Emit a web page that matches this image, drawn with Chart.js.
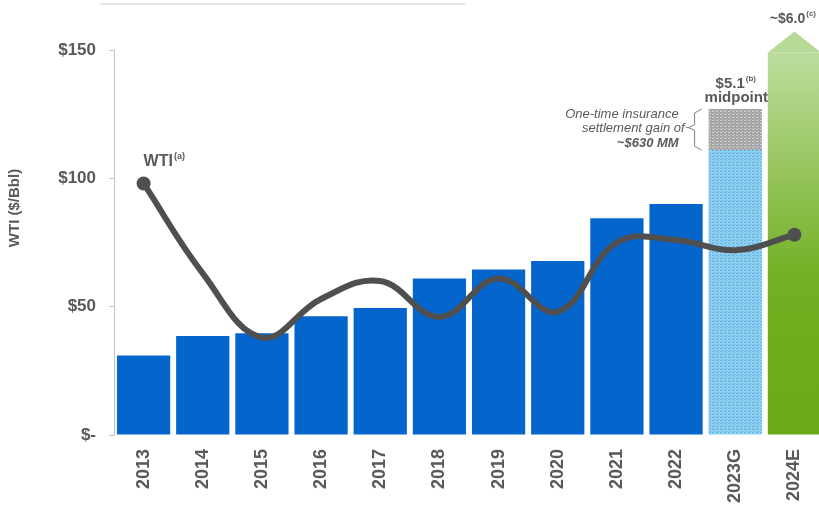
<!DOCTYPE html>
<html>
<head>
<meta charset="utf-8">
<script src="https://cdn.jsdelivr.net/npm/chart.js@4"></script>
<style>
  html, body { margin: 0; padding: 0; background: #fff; overflow: hidden; }
  .wrap { width: 831px; height: 514px; }
</style>
</head>
<body>
<div class="wrap"><canvas id="chart"></canvas></div>
<script>
const YEARS = ['2013', '2014', '2015', '2016', '2017', '2018', '2019', '2020', '2021', '2022', '2023G', '2024E'];
const EBITDA = [31, 38.6, 39.6, 46.3, 49.5, 61, 64.5, 67.8, 84.4, 90, 111, 149];
const INSURANCE = [null, null, null, null, null, null, null, null, null, null, 16, null];
const WTI = [98, 63, 38, 53, 60, 46, 61, 48, 75, 76, 72, 78];
const Y_TICKS = [0, 50, 100, 150];

const FONT = '"Liberation Sans", Arial, sans-serif';
const GREY = '#595959';
const BLUE = '#0465cc';

// dotted fill like the slide's texture
function pattern(base, dot) {
  const c = document.createElement('canvas');
  c.width = 4; c.height = 3;
  const g = c.getContext('2d');
  g.fillStyle = base; g.fillRect(0, 0, 4, 3);
  g.fillStyle = dot; g.fillRect(0, 0, 2, 1); g.fillRect(2, 2, 1, 1);
  return g.createPattern(c, 'repeat');
}
const guidance = pattern('#8fd0f0', '#5fb2e2');
const gain = pattern('#a3a3a3', '#cfcfcf');

function greenFill(ctx) {
  const a = ctx.chart.chartArea;
  if (!a) return '#7ab53a';
  const gr = ctx.chart.ctx.createLinearGradient(0, a.top, 0, a.bottom);
  gr.addColorStop(0, '#bedd9f');
  gr.addColorStop(0.6, '#72af22');
  gr.addColorStop(1, '#6aa91a');
  return gr;
}

function barColor(ctx) {
  if (ctx.dataIndex === 10) return guidance;
  if (ctx.dataIndex === 11) return greenFill(ctx);
  return BLUE;
}

function supText(ctx, main, sup, x, y, size, align) {
  ctx.font = `bold ${size}px ${FONT}`;
  const w1 = ctx.measureText(main).width;
  ctx.font = `bold ${Math.round(size * 0.55)}px ${FONT}`;
  const w2 = ctx.measureText(sup).width;
  let x0 = align === 'center' ? x - (w1 + w2) / 2 : x;
  ctx.textAlign = 'left';
  ctx.font = `bold ${size}px ${FONT}`;
  ctx.fillText(main, x0, y);
  ctx.font = `bold ${Math.round(size * 0.55)}px ${FONT}`;
  ctx.fillText(sup, x0 + w1 + 1, y - size * 0.45);
}

const overlay = {
  id: 'overlay',
  afterDatasetsDraw(chart) {
    const { ctx, chartArea: a } = chart;
    const bars = chart.getDatasetMeta(0).data;
    const top23 = chart.getDatasetMeta(1).data[10];
    const pts = chart.getDatasetMeta(2).data;
    ctx.save();

    // faint rule at top of slide
    ctx.strokeStyle = '#e4e4e4';
    ctx.lineWidth = 2;
    ctx.beginPath(); ctx.moveTo(100, 4); ctx.lineTo(465, 4); ctx.stroke();

    // arrow cap on 2024E
    const g = bars[11];
    ctx.fillStyle = '#b6da96';
    ctx.beginPath();
    ctx.moveTo(g.x - g.width / 2, g.y);
    ctx.lineTo(g.x, g.y - 21);
    ctx.lineTo(g.x + g.width / 2, g.y);
    ctx.closePath(); ctx.fill();

    ctx.fillStyle = GREY;
    ctx.textBaseline = 'alphabetic';
    supText(ctx, '~$6.0', '(c)', g.x - 2, g.y - 30, 14, 'center');

    // 2023G labels
    const b = bars[10];
    supText(ctx, '$5.1', '(b)', b.x, top23.y - 21, 15, 'center');
    ctx.font = `bold 15px ${FONT}`;
    ctx.textAlign = 'center';
    ctx.fillText('midpoint', b.x + 1, top23.y - 7);

    // insurance note + bracket
    const left = b.x - b.width / 2;
    const bx = left - 14;
    const midY = (top23.y + b.y) / 2 - 2;
    ctx.textAlign = 'right';
    ctx.font = `italic 13px ${FONT}`;
    ctx.fillText('One-time insurance', bx - 16, top23.y + 9);
    ctx.fillText('settlement gain of', bx - 10, midY + 4);
    ctx.font = `italic bold 13px ${FONT}`;
    ctx.fillText('~$630 MM', bx - 16, b.y - 3);
    ctx.strokeStyle = '#7f7f7f';
    ctx.lineWidth = 1;
    ctx.beginPath();
    ctx.moveTo(bx + 7, top23.y); ctx.lineTo(bx, top23.y + 4);
    ctx.lineTo(bx, midY - 3); ctx.lineTo(bx - 6, midY);
    ctx.lineTo(bx, midY + 3); ctx.lineTo(bx, b.y - 4); ctx.lineTo(bx + 7, b.y);
    ctx.moveTo(bx - 6, midY); ctx.lineTo(bx - 9, midY);
    ctx.stroke();

    // WTI series label
    ctx.fillStyle = GREY;
    supText(ctx, 'WTI', '(a)', pts[0].x, pts[0].y - 17, 16, 'left');

    // y axis title
    ctx.translate(15, a.top + 158);
    ctx.rotate(-Math.PI / 2);
    ctx.textAlign = 'center';
    ctx.textBaseline = 'middle';
    ctx.font = `bold 15px ${FONT}`;
    ctx.fillText('WTI ($/Bbl)', 0, 0);
    ctx.restore();
  }
};

new Chart(document.getElementById('chart'), {
  type: 'bar',
  data: {
    labels: YEARS,
    datasets: [
      { data: EBITDA, backgroundColor: barColor, stack: 'bars', order: 1,
        barPercentage: 0.9, categoryPercentage: 1 },
      { data: INSURANCE, backgroundColor: gain, stack: 'bars', order: 2,
        barPercentage: 0.9, categoryPercentage: 1 },
      { type: 'line', data: WTI, stack: 'wti', order: 0,
        borderColor: '#4f4f4f', borderWidth: 6, tension: 0.4, borderCapStyle: 'round',
        pointRadius: WTI.map((_, i) => (i === 0 || i === WTI.length - 1 ? 7 : 0)),
        pointBackgroundColor: '#4f4f4f', pointBorderWidth: 0 },
    ],
  },
  options: {
    responsive: true, maintainAspectRatio: false, animation: false,
    layout: { padding: { top: 50, right: 0, left: 0, bottom: 0 } },
    plugins: { legend: { display: false }, tooltip: { enabled: false } },
    scales: {
      x: {
        stacked: true,
        grid: { display: false },
        border: { display: false },
        ticks: { color: GREY, font: { family: FONT, size: 18, weight: 'bold' },
          minRotation: 90, maxRotation: 90, padding: 6, autoSkip: false },
        afterFit: (s) => { s.height = 79; },
      },
      y: {
        stacked: true,
        min: 0, max: 150,
        afterBuildTicks: (s) => { s.ticks = Y_TICKS.map((v) => ({ value: v })); },
        grid: { drawOnChartArea: false, drawTicks: true, tickLength: 5, color: '#c4c4c4' },
        border: { display: true, color: '#c4c4c4' },
        ticks: { color: GREY, font: { family: FONT, size: 17, weight: 'bold' }, padding: 13,
          callback: (v) => (v === 0 ? '$-' : '$' + v) },
        afterFit: (s) => { s.width = 114; },
      },
    },
  },
  plugins: [overlay],
});
</script>
</body>
</html>
